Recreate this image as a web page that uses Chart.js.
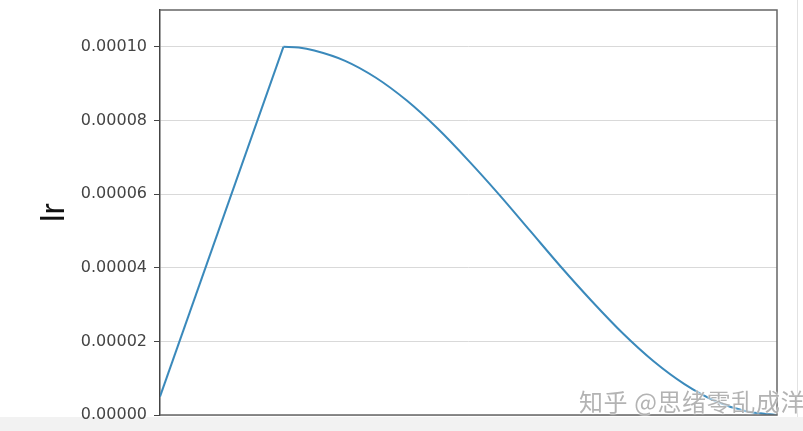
<!DOCTYPE html>
<html>
<head>
<meta charset="utf-8">
<script src="https://cdn.jsdelivr.net/npm/chart.js@4/dist/chart.umd.min.js"></script>
<style>
  html, body { margin: 0; padding: 0; background: #ffffff; overflow: hidden; }
  #wrap { position: relative; width: 803px; height: 431px; overflow: hidden; }
  #band { position: absolute; left: 0; top: 417px; width: 803px; height: 14px; background: #f2f2f2; }
  #edge { position: absolute; left: 797px; top: 0; width: 1px; height: 417px; background: #e2e2e2; }
  #mark {
    position: absolute; left: 579px; top: 383px; white-space: nowrap; letter-spacing: 0.6px;
    font-family: "Noto Sans CJK SC", sans-serif; font-size: 24px; color: rgba(160,160,160,0.8);
    text-shadow: 0 0 2px #fff, 0 0 2px #fff;
  }
  canvas { position: absolute; left: 0; top: 0; }
</style>
</head>
<body>
<div id="wrap">
  <div id="band"></div>
  <div id="edge"></div>
  <canvas id="c" width="803" height="431"></canvas>
  <div id="mark">知乎 @思绪零乱成洋</div>
</div>
<script>
// Learning-rate schedule: linear warmup followed by cosine decay
const warmupEpochs = [0, 20];
const warmupLr = [0.000005, 0.0001];
const decayEpochs = [20, 22.5, 25, 30, 35, 40, 45, 50, 55, 60, 65, 70, 75, 80, 85, 90, 95, 100];
const decayLr = [0.000100, 0.0000998, 0.0000990, 0.0000962, 0.0000916, 0.0000854, 0.0000778,
                 0.0000691, 0.0000598, 0.0000500, 0.0000402, 0.0000309, 0.0000222, 0.0000146,
                 0.0000084, 0.0000038, 0.0000010, 0.0000000];
const yTicks = [0, 0.00002, 0.00004, 0.00006, 0.00008, 0.00010];
const yLabel = 'lr';

const lineColor = '#3a89bb';

// Frame around the plot area (top, right, bottom)
const framePlugin = {
  id: 'frame',
  afterDraw(chart) {
    const { ctx, chartArea: a } = chart;
    ctx.save();
    ctx.strokeStyle = '#666';
    ctx.lineWidth = 1.5;
    ctx.beginPath();
    ctx.moveTo(a.left, a.top);
    ctx.lineTo(a.right, a.top);
    ctx.lineTo(a.right, a.bottom);
    ctx.lineTo(a.left, a.bottom);
    ctx.stroke();
    ctx.restore();
  }
};

new Chart(document.getElementById('c'), {
  type: 'line',
  data: {
    datasets: [
      {
        data: warmupEpochs.map((e, i) => ({ x: e, y: warmupLr[i] })),
        borderColor: lineColor, borderWidth: 2, pointRadius: 0, tension: 0
      },
      {
        data: decayEpochs.map((e, i) => ({ x: e, y: decayLr[i] })),
        borderColor: lineColor, borderWidth: 2, pointRadius: 0,
        cubicInterpolationMode: 'monotone'
      }
    ]
  },
  options: {
    responsive: false,
    animation: false,
    layout: { padding: { top: 10, right: 26, bottom: 16, left: 0 } },
    plugins: { legend: { display: false }, tooltip: { enabled: false } },
    scales: {
      x: { type: 'linear', min: 0, max: 100, display: false },
      y: {
        min: 0, max: 0.00011,
        afterFit(s) { s.width = 160; s.paddingTop = 0; s.paddingBottom = 0; },
        afterBuildTicks(s) { s.ticks = yTicks.map(v => ({ value: v })); },
        ticks: {
          padding: 7,
          color: '#444',
          font: { family: 'DejaVu Sans', size: 16 },
          callback: v => Number(v).toFixed(5)
        },
        grid: { color: '#d9d9d9', lineWidth: 1, tickColor: '#444', tickLength: 6, drawTicks: true },
        border: { color: '#444', width: 1.5 },
        title: {
          display: true, text: yLabel, color: '#111',
          font: { family: 'Liberation Sans', size: 34, lineHeight: 1 },
          padding: { top: 38, bottom: 0 }
        }
      }
    }
  },
  plugins: [framePlugin]
});
</script>
</body>
</html>
